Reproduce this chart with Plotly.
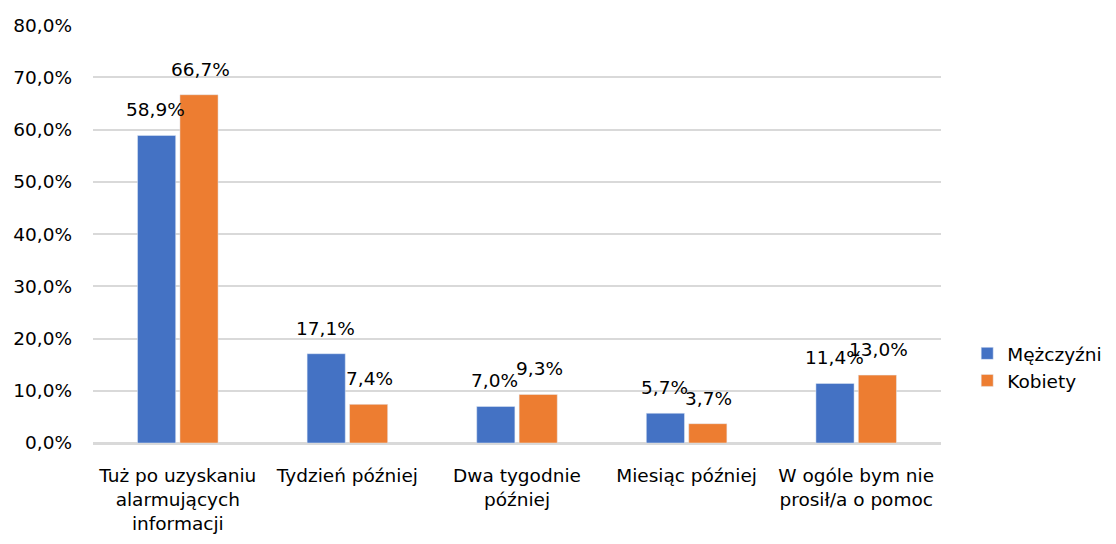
import plotly.graph_objects as go

categories = ["Tuż po uzyskaniu<br>alarmujących<br>informacji", "Tydzień później",
              "Dwa tygodnie<br>później", "Miesiąc później", "W ogóle bym nie<br>prosił/a o pomoc"]
men = [58.9, 17.1, 7.0, 5.7, 11.4]
women = [66.7, 7.4, 9.3, 3.7, 13.0]
y_ticks = [0, 10, 20, 30, 40, 50, 60, 70, 80]

FONT = "DejaVu Sans"
FS = 18.5

def fmt(v):
    return f"{v:.1f}".replace(".", ",") + "%"

fig = go.Figure()
fig.add_trace(go.Bar(name="Mężczyźni", x=categories, y=men, marker_color="#4472C4"))
fig.add_trace(go.Bar(name="Kobiety", x=categories, y=women, marker_color="#ED7D31"))

# data labels above bars (offset within each group)
plot_w = 1100 - 85 - 167
slot = plot_w / len(categories) * (1 - 0.5) / 2
for vals, shift in ((men, -slot / 2 - 1), (women, slot / 2 + 1)):
    for c, v in zip(categories, vals):
        fig.add_annotation(x=c, y=v, text=fmt(v), showarrow=False, xref="x", yref="y",
                           xanchor="center", yanchor="bottom", xshift=shift, yshift=13,
                           font=dict(size=FS, family=FONT, color="#000000"))

fig.update_layout(
    width=1100, height=528,
    margin=dict(l=85, r=167, t=17, b=93, autoexpand=False),
    paper_bgcolor="white", plot_bgcolor="white",
    barmode="group", bargap=0.5, bargroupgap=0.1,
    font=dict(family=FONT, size=FS, color="#000000"),
    legend=dict(xref="container", x=0.872, y=0.181, xanchor="left", yanchor="middle",
                font=dict(size=FS, family=FONT), itemwidth=30, tracegroupgap=0),
    showlegend=True,
)
fig.update_yaxes(range=[0, 80.05], tickvals=y_ticks, ticktext=[fmt(v) for v in y_ticks],
                 showgrid=True, gridcolor="#D9D9D9", gridwidth=1.5, zeroline=True,
                 zerolinecolor="#D9D9D9", zerolinewidth=1.5, ticks="", showline=False,
                 automargin=False, ticklabelstandoff=20,
                 tickfont=dict(size=FS, family=FONT))
fig.update_xaxes(showline=True, linecolor="#D9D9D9", linewidth=1.5, ticks="",
                 automargin=False, ticklabelstandoff=15,
                 tickfont=dict(size=FS, family=FONT), tickangle=0)

fig.write_html("out.html")
